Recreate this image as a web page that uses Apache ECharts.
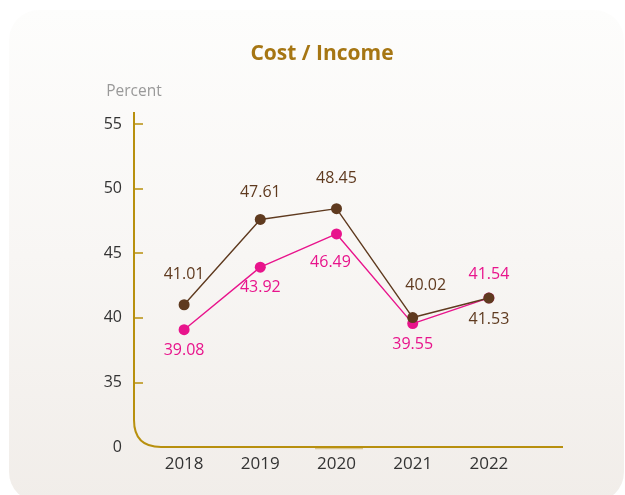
<!DOCTYPE html>
<html>
<head>
<meta charset="utf-8">
<script src="https://cdn.jsdelivr.net/npm/echarts@6/dist/echarts.min.js"></script>
<style>
  html, body { margin: 0; padding: 0; background: #fff; }
  #card {
    position: absolute; left: 9px; top: 10px; width: 615px; height: 492px;
    border-radius: 30px;
    background: linear-gradient(180deg, #fdfdfc 0%, #f8f6f4 50%, #f1ede9 100%);
  }
  #chart { position: absolute; left: 0; top: 0; width: 625px; height: 495px; }
</style>
</head>
<body>
<div id="card"></div>
<div id="chart"></div>
<script>
// ─── Data ──────────────────────────────────────────
const years = ['2018', '2019', '2020', '2021', '2022'];
const brownValues = [41.01, 47.61, 48.45, 40.02, 41.53];
const pinkValues = [39.08, 43.92, 46.49, 39.55, 41.54];
const yTickValues = [35, 40, 45, 50, 55];
const yLabelValues = [30, 35, 40, 45, 50, 55]; // 30 is the broken-axis floor, shown as "0"

const GOLD = '#b8900e';
const BROWN = '#5f3a1f';
const PINK = '#e8148c';
const FONT = "'Open Sans', sans-serif";

// grid placement
const gridLeft = 146, gridRight = 98, gridTop = 124, gridBottom = 48;
const axisX = gridLeft - 12;          // y axis drawn a bit left of the plot
const axisY = 495 - gridBottom;       // x axis line
const axisEnd = 563;
const corner = 27;

const chart = echarts.init(document.getElementById('chart'));

// label tweaks per point (index -> label overrides), the rest use series defaults
const brownLabelTweaks = { 0: { offset: [0, -3] }, 2: { offset: [0, -3] }, 3: { offset: [13, -5] }, 4: { position: 'bottom', distance: 8 } };
const pinkLabelTweaks = { 2: { offset: [-6, 8] }, 4: { position: 'top', distance: 10 } };

const withTweaks = (data, tweaks) => data.map((v, i) => ({ value: v, label: tweaks[i] }));

const axisStyle = { stroke: GOLD, lineWidth: 2, fill: null };

chart.setOption({
  animation: false,
  title: {
    text: 'Cost / Income',
    left: 317, top: 39, textAlign: 'center',
    textStyle: { color: '#a67613', fontSize: 21, fontWeight: 'bold', fontFamily: FONT }
  },
  grid: { left: gridLeft, right: gridRight, top: gridTop, bottom: gridBottom },
  xAxis: {
    type: 'category',
    data: years,
    boundaryGap: true,
    axisLine: { show: false },
    axisTick: { show: false },
    axisLabel: { color: '#333', fontSize: 17, margin: 9, fontFamily: FONT }
  },
  yAxis: {
    type: 'value',
    min: 30, max: 55, interval: 5,
    offset: 12,
    name: 'Percent',
    nameGap: 24,
    nameTextStyle: { color: '#999', fontSize: 15.5, fontFamily: FONT },
    axisLine: { show: false },
    splitLine: { show: false },
    axisTick: { show: true, inside: true, length: 9, customValues: yTickValues,
      lineStyle: { color: GOLD, width: 1.5 } },
    axisLabel: {
      customValues: yLabelValues,
      color: '#333', fontSize: 16, margin: 12, fontFamily: FONT,
      formatter: v => (v === 30 ? '0' : String(v))
    }
  },
  // rounded-corner axis frame
  graphic: [
    { type: 'line', shape: { x1: axisX, y1: 112, x2: axisX, y2: axisY - corner }, style: axisStyle, z: 1 },
    { type: 'bezierCurve',
      shape: { x1: axisX, y1: axisY - corner, x2: axisX + corner, y2: axisY, cpx1: axisX, cpy1: axisY },
      style: axisStyle, z: 1 },
    { type: 'line', shape: { x1: axisX + corner, y1: axisY, x2: axisEnd, y2: axisY }, style: axisStyle, z: 1 },
    { type: 'line', shape: { x1: 315, y1: axisY + 1.5, x2: 363, y2: axisY + 1.5 },
      style: { stroke: '#c9aa55', lineWidth: 1.5, opacity: 0.6 }, z: 0 }
  ],
  series: [
    {
      name: 'Brown',
      type: 'line',
      data: withTweaks(brownValues, brownLabelTweaks),
      symbol: 'circle', symbolSize: 11,
      lineStyle: { color: BROWN, width: 1.4 },
      itemStyle: { color: BROWN },
      label: { show: true, position: 'top', distance: 14, color: BROWN, fontSize: 16, fontFamily: FONT },
      z: 3
    },
    {
      name: 'Pink',
      type: 'line',
      data: withTweaks(pinkValues, pinkLabelTweaks),
      symbol: 'circle', symbolSize: 11,
      lineStyle: { color: PINK, width: 1.4 },
      itemStyle: { color: PINK },
      label: { show: true, position: 'bottom', distance: 7, color: PINK, fontSize: 16, fontFamily: FONT },
      z: 2
    }
  ]
});
</script>
</body>
</html>
